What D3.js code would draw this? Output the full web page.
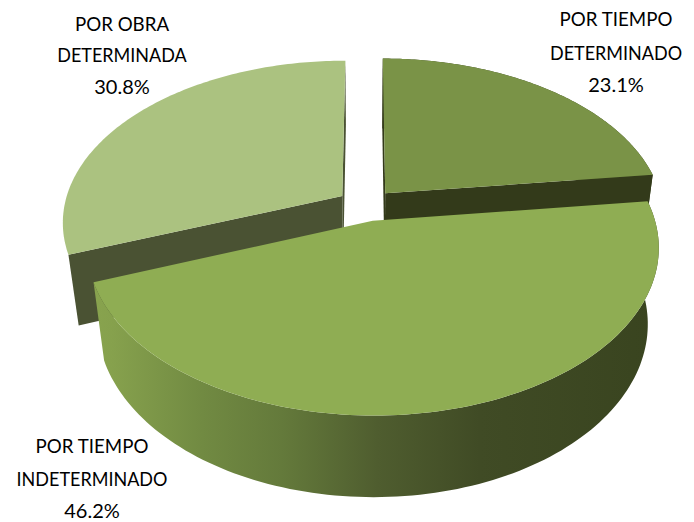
<!DOCTYPE html>
<html><head><meta charset="utf-8">
<script src="https://cdn.jsdelivr.net/npm/d3@7"></script>
<style>html,body{margin:0;padding:0;background:#fff}svg{display:block}</style>
</head><body><svg id="c" width="694" height="522"></svg>
<script>
const categories = ["POR TIEMPO DETERMINADO", "POR TIEMPO INDETERMINADO", "POR OBRA DETERMINADA"];
const shares = [23.1, 46.2, 30.8];
const labelLines = [["POR TIEMPO", "DETERMINADO", "23.1%"], ["POR TIEMPO", "INDETERMINADO", "46.2%"], ["POR OBRA", "DETERMINADA", "30.8%"]];
const labelCenterX = [616, 92, 122];
const labelCenterY = [[18, 52, 84], [445, 478, 510], [23, 54, 86]];
const lineScaleX = [0.935, 0.9, 1];
const topColors = ["#7a9347", "#8fad53", "#abc280"];
const wallColors = ["#333a1a", null, "#4a5233"];
const rimColors = ["#3b4520", "url(#rim)", null];
const sliceDepth = [0.345, 0.345, 0.314];
const sliceNudgeX = [1, 0, -1];
const drawOrder = [2, 0, 1];

const cx = 366, cy = 205, S = 278, phi = 34.9 * Math.PI / 180, rho = 0.19, explode = 0.1;
const project = (x, z, h) => {
  const w = 1 + rho * (z * Math.cos(phi) + h * Math.sin(phi));
  return [cx + S * x / w, cy - S * (z * Math.sin(phi) - h * Math.cos(phi)) / w];
};
const svg = d3.select("#c");
const grad = svg.append("defs").append("linearGradient").attr("id", "rim")
  .attr("gradientUnits", "userSpaceOnUse").attr("x1", 95).attr("x2", 660).attr("y1", 0).attr("y2", 0);
[[0, "#88a34e"], [0.03, "#86a14d"], [0.19, "#718a42"], [0.33, "#647a3b"], [0.5, "#4f5d2f"], [0.68, "#404b25"], [1, "#39441f"]]
  .forEach(s => grad.append("stop").attr("offset", s[0]).attr("stop-color", s[1]));

const arcs = d3.pie().sort(null).value(d => d)(shares);
const line = d3.line();
const close = pts => line(pts) + "Z";

drawOrder.forEach(i => {
  const a = arcs[i], mid = (a.startAngle + a.endAngle) / 2, depth = sliceDepth[i];
  const ox = explode * Math.sin(mid), oz = explode * Math.cos(mid);
  const P = (t, r, h) => project(ox + r * Math.sin(t), oz + r * Math.cos(t), h);
  const ts = d3.range(0, 121).map(k => a.startAngle + (a.endAngle - a.startAngle) * k / 120);
  const g = svg.append("g").attr("transform", `translate(${sliceNudgeX[i]},0)`);
  if (rimColors[i]) g.append("path").attr("fill", rimColors[i])
    .attr("d", close([...ts.map(t => P(t, 1, 0)), ...ts.slice().reverse().map(t => P(t, 1, depth))]));
  if (wallColors[i]) [a.startAngle, a.endAngle].forEach(t => {
    g.append("path").attr("fill", wallColors[i])
      .attr("d", close([P(t, 0, 0), P(t, 1, 0), P(t, 1, depth), P(t, 0, depth)]));
  });
  g.append("path").attr("fill", topColors[i])
    .attr("d", close([P(0, 0, 0), ...ts.map(t => P(t, 1, 0))]));
});

labelLines.forEach((ls, i) => {
  ls.forEach((s, j) => {
    svg.append("text")
      .attr("transform", `translate(${labelCenterX[i]},${labelCenterY[i][j]}) scale(${lineScaleX[j]},1)`)
      .attr("text-anchor", "middle").attr("dominant-baseline", "central")
      .attr("font-family", "Lato, sans-serif").attr("font-size", 20).attr("fill", "#000").text(s);
  });
});
</script></body></html>
